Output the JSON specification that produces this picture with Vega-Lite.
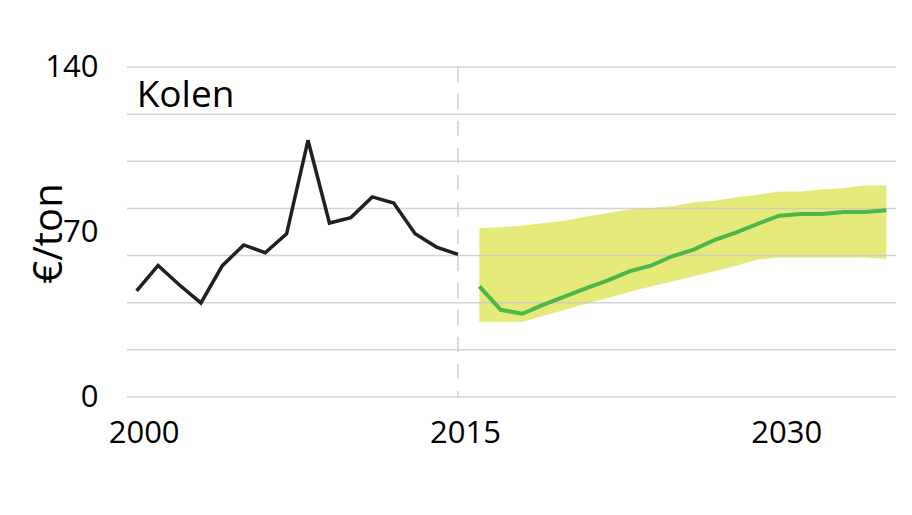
{
  "$schema": "https://vega.github.io/schema/vega-lite/v6.json",
  "autosize": {"type": "none"},
  "padding": {"left": 127, "top": 67, "right": 16, "bottom": 118},
  "width": 769,
  "height": 330,
  "background": "white",
  "config": {"view": {"stroke": null}, "font": "Open Sans"},
  "datasets": {
    "hist": [
      {"year": 2000, "value": 45.0}, {"year": 2001, "value": 55.8}, {"year": 2002, "value": 47.5},
      {"year": 2003, "value": 39.9}, {"year": 2004, "value": 55.7}, {"year": 2005, "value": 64.5},
      {"year": 2006, "value": 61.2}, {"year": 2007, "value": 69.2}, {"year": 2008, "value": 108.9},
      {"year": 2009, "value": 73.8}, {"year": 2010, "value": 76.1}, {"year": 2011, "value": 84.9},
      {"year": 2012, "value": 82.3}, {"year": 2013, "value": 69.3}, {"year": 2014, "value": 63.6},
      {"year": 2015, "value": 60.5}
    ],
    "proj": [
      {"year": 2016, "value": 46.9, "lo": 31.8, "hi": 71.7},
      {"year": 2017, "value": 37.0, "lo": 31.8, "hi": 72.0},
      {"year": 2018, "value": 35.3, "lo": 31.8, "hi": 72.7},
      {"year": 2019, "value": 39.2, "lo": 34.5, "hi": 73.8},
      {"year": 2020, "value": 42.7, "lo": 37.0, "hi": 74.8},
      {"year": 2021, "value": 46.2, "lo": 39.6, "hi": 76.6},
      {"year": 2022, "value": 49.5, "lo": 42.0, "hi": 78.1},
      {"year": 2023, "value": 53.3, "lo": 44.5, "hi": 79.5},
      {"year": 2024, "value": 55.7, "lo": 46.9, "hi": 80.2},
      {"year": 2025, "value": 59.7, "lo": 49.0, "hi": 80.9},
      {"year": 2026, "value": 62.5, "lo": 51.2, "hi": 82.6},
      {"year": 2027, "value": 66.7, "lo": 53.3, "hi": 83.3},
      {"year": 2028, "value": 69.8, "lo": 55.7, "hi": 84.7},
      {"year": 2029, "value": 73.5, "lo": 58.3, "hi": 85.8},
      {"year": 2030, "value": 76.9, "lo": 59.2, "hi": 87.2},
      {"year": 2031, "value": 77.6, "lo": 59.2, "hi": 87.2},
      {"year": 2032, "value": 77.6, "lo": 59.2, "hi": 88.0},
      {"year": 2033, "value": 78.5, "lo": 59.2, "hi": 88.7},
      {"year": 2034, "value": 78.5, "lo": 59.2, "hi": 89.7},
      {"year": 2035, "value": 79.2, "lo": 58.5, "hi": 89.7}
    ],
    "grid": [
      {"v": 0}, {"v": 20}, {"v": 40}, {"v": 60}, {"v": 80}, {"v": 100}, {"v": 120}, {"v": 140}
    ],
    "divider": [{"year": 2015}],
    "label": [{"year": 2000, "value": 123.2, "text": "Kolen"}]
  },
  "layer": [
    {
      "data": {"name": "proj"},
      "mark": {"type": "area", "color": "#e6ea7a", "opacity": 1},
      "encoding": {
        "x": {
          "field": "year", "type": "quantitative",
          "scale": {"domain": [1999.55, 2035.45], "nice": false, "zero": false},
          "axis": {
            "values": [2000, 2015, 2030], "format": "d", "title": null,
            "grid": false, "domain": false, "ticks": false,
            "labelFontSize": 31, "labelColor": "#000000", "labelPadding": 21,
            "labelOffset": 7, "labelFont": "Open Sans"
          }
        },
        "y": {
          "field": "lo", "type": "quantitative",
          "scale": {"domain": [0, 140], "nice": false},
          "axis": {
            "values": [0, 70, 140], "title": "€/ton", "grid": false, "domain": false, "ticks": false,
            "labelFontSize": 31, "labelColor": "#000000", "labelPadding": 29, "labelFont": "Open Sans",
            "titleFontSize": 40, "titleFontWeight": "normal", "titleColor": "#000000", "titleFont": "Open Sans",
            "titleAngle": -90, "titleX": -78, "titleY": 166, "titleAlign": "center", "titleBaseline": "middle"
          }
        },
        "y2": {"field": "hi"}
      }
    },
    {
      "data": {"name": "grid"},
      "mark": {"type": "rule", "color": "#c8c8c8", "strokeWidth": 1.5, "opacity": 0.8},
      "encoding": {"y": {"field": "v", "type": "quantitative"}}
    },
    {
      "data": {"name": "divider"},
      "mark": {"type": "rule", "color": "#cfcfcf", "strokeWidth": 1.5, "strokeDash": [15, 12]},
      "encoding": {"x": {"field": "year", "type": "quantitative"}}
    },
    {
      "data": {"name": "hist"},
      "mark": {"type": "line", "color": "#231f20", "strokeWidth": 3.5},
      "encoding": {
        "x": {"field": "year", "type": "quantitative"},
        "y": {"field": "value", "type": "quantitative"}
      }
    },
    {
      "data": {"name": "proj"},
      "mark": {"type": "line", "color": "#4cb847", "strokeWidth": 4},
      "encoding": {
        "x": {"field": "year", "type": "quantitative"},
        "y": {"field": "value", "type": "quantitative"}
      }
    },
    {
      "data": {"name": "label"},
      "mark": {"type": "text", "align": "left", "baseline": "alphabetic", "fontSize": 37, "font": "Open Sans", "color": "#000000"},
      "encoding": {
        "x": {"field": "year", "type": "quantitative"},
        "y": {"field": "value", "type": "quantitative"},
        "text": {"field": "text"}
      }
    }
  ]
}
